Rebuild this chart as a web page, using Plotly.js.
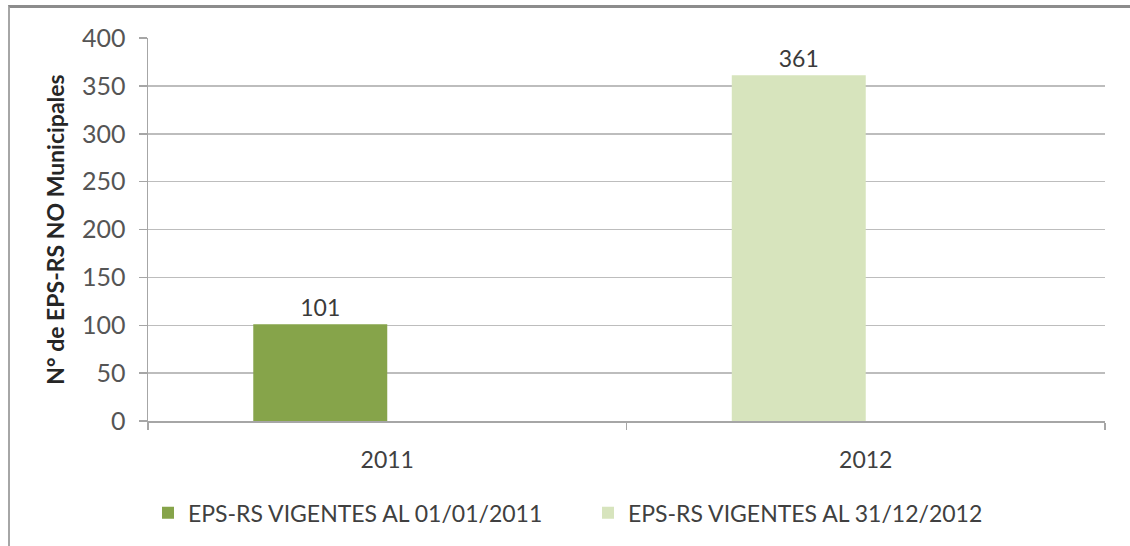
<!DOCTYPE html>
<html>
<head>
<meta charset="utf-8">
<script src="https://cdn.plot.ly/plotly-3.0.1.min.js"></script>
<style>
  html, body { margin: 0; padding: 0; background: #fff; }
  #frame { position: absolute; left: 8px; top: 5px; width: 1122px; height: 541px;
           border-top: 3px solid #8c8c8c; border-left: 2px solid #a6a6a6; box-sizing: border-box; }
  #chart { position: absolute; left: 0; top: 0; width: 1130px; height: 546px; }
</style>
</head>
<body>
<div id="frame"></div>
<div id="chart"></div>
<script>
const categories = ['2011', '2012'];
const seriesNames = ['EPS-RS VIGENTES AL 01/01/2011', 'EPS-RS VIGENTES AL 31/12/2012'];
const series2011 = [101, null];
const series2012 = [null, 361];
const yTicks = [0, 50, 100, 150, 200, 250, 300, 350, 400];
const yTitle = 'N° de EPS-RS NO Municipales';

const FONT = 'Lato, "Open Sans", sans-serif';

function barTrace(name, values, color) {
  return {
    type: 'bar',
    name: name,
    x: categories,
    y: values,
    width: 0.28,
    offset: -0.28,
    marker: { color: color, line: { width: 0 } },
    text: values.map(v => v == null ? '' : String(v)),
    textposition: 'outside',
    cliponaxis: false,
    textfont: { family: FONT, size: 23, color: '#3a3a3a' },
    hoverinfo: 'skip'
  };
}

const data = [
  barTrace(seriesNames[0], series2011, '#86A44A'),
  barTrace(seriesNames[1], series2012, '#D7E4BD')
];

const layout = {
  width: 1130,
  height: 546,
  margin: { l: 148, r: 25, t: 38, b: 123 },
  paper_bgcolor: 'rgba(0,0,0,0)',
  plot_bgcolor: 'rgba(0,0,0,0)',
  barmode: 'overlay',
  showlegend: true,
  font: { family: FONT, color: '#404040' },
  xaxis: {
    type: 'category',
    categoryorder: 'array',
    categoryarray: categories,
    range: [-0.5, 1.5],
    showline: true,
    linecolor: '#A6A6A6',
    linewidth: 1.5,
    ticks: 'outside',
    tickson: 'boundaries',
    ticklen: 7,
    tickcolor: '#A6A6A6',
    tickwidth: 1.5,
    ticklabelstandoff: 18,
    tickfont: { family: FONT, size: 23, color: '#404040' },
    showgrid: false,
    zeroline: false,
    automargin: false,
    fixedrange: true
  },
  yaxis: {
    range: [0, 400],
    tickvals: yTicks,
    ticktext: yTicks.map(String),
    showline: true,
    linecolor: '#A6A6A6',
    linewidth: 1.5,
    ticks: 'outside',
    ticklen: 8,
    tickcolor: '#A6A6A6',
    tickwidth: 1.5,
    ticklabelstandoff: 8,
    tickfont: { family: FONT, size: 25, color: '#555555' },
    showgrid: true,
    gridcolor: '#BDBDBD',
    gridwidth: 1.5,
    zeroline: false,
    automargin: false,
    title: { text: yTitle, font: { family: FONT, size: 23, color: '#262626', weight: 'bold' }, standoff: 11 },
    fixedrange: true
  },
  legend: {
    orientation: 'h',
    x: 0.0,
    xanchor: 'left',
    y: -0.24,
    yanchor: 'middle',
    font: { family: FONT, size: 23, color: '#404040' },
    entrywidth: 395,
    entrywidthmode: 'pixels',
    itemclick: false,
    itemdoubleclick: false
  }
};

Plotly.newPlot('chart', data, layout, { displayModeBar: false, staticPlot: true });
</script>
</body>
</html>
